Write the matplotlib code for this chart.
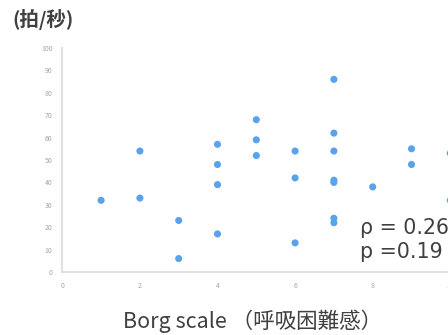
import matplotlib
matplotlib.use("Agg")
import matplotlib.pyplot as plt

plt.rcParams['font.family'] = ['Noto Sans CJK JP', 'DejaVu Sans']

# Data: Borg scale vs heart rate change
borg = [1, 2, 2, 3, 3, 4, 4, 4, 4, 5, 5, 5, 6, 6, 6,
        7, 7, 7, 7, 7, 7, 7, 8, 9, 9, 10, 10]
hr = [32, 33, 54, 23, 6, 57, 48, 39, 17, 68, 59, 52, 54, 42, 13,
      86, 62, 54, 41, 40, 24, 22, 38, 55, 48, 53, 32]
x_ticks = [0, 2, 4, 6, 8, 10]
y_ticks = [0, 10, 20, 30, 40, 50, 60, 70, 80, 90, 100]
stat_lines = ["ρ = 0.26", "p =0.19"]

W, H = 448, 335
fig = plt.figure(figsize=(W / 100, H / 100), dpi=100)
px_per_unit = 38.8
x0 = 62.3
xmax = 10.6
left = x0 / W
width = xmax * px_per_unit / W
bottom = (H - 272) / H
top = (H - 48) / H
ax = fig.add_axes([left, bottom, width, top - bottom])

ax.scatter(borg, hr, s=26, color='#5aa2ea', edgecolors='none', zorder=3)

ax.set_xlim(0, xmax)
ax.set_ylim(0, 100)
ax.set_xticks(x_ticks)
ax.set_yticks(y_ticks)
ax.set_xticklabels([str(t) for t in x_ticks])
ax.set_yticklabels([str(t) for t in y_ticks])
ax.tick_params(axis='both', length=0, labelsize=5, labelcolor='#a6a6a6', pad=7)
for s in ['top', 'right']:
    ax.spines[s].set_visible(False)
for s in ['left', 'bottom']:
    ax.spines[s].set_color('#e0e0e0')
    ax.spines[s].set_linewidth(1.5)

fig.text(253 / W, 1 - 321 / H, "Borg scale （呼吸困難感）", ha='center', va='center',
         fontsize=15.5, color='#404040')
fig.text(12 / W, 1 - 20 / H, "(拍/秒)", ha='left', va='center',
         fontsize=14, fontweight='bold', color='#404040')

ax.text(7.68, 19.8, stat_lines[0], ha='left', va='center', fontsize=14.8,
        color='#404040', family=['DejaVu Sans'])
ax.text(7.68, 9.0, stat_lines[1], ha='left', va='center', fontsize=14.8,
        color='#404040', family=['DejaVu Sans'])

fig.savefig('out.png', dpi=100)
